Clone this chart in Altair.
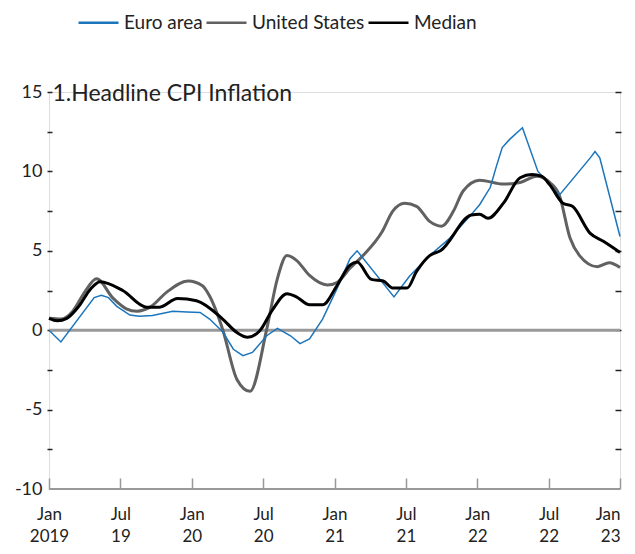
import json
import pandas as pd
import altair as alt

# months since Jan 2019
euro_m = [0, 1.0, 3.8, 4.4, 5.0, 5.7, 6.8, 7.6, 8.7, 10.4, 11.6, 12.7, 13.5, 14.6, 15.5, 16.3, 17.1,
          18.3, 19.2, 20.3, 21.1, 21.9, 23.0, 24.2, 25.3, 25.9, 29.0, 30.3, 32.0, 33.7, 35.4, 36.2,
          37.1, 37.6, 38.1, 38.7, 39.8, 41.1, 42.9, 45.5, 45.9, 46.3, 48.0]
euro_v = [0.0, -0.74, 2.05, 2.2, 2.05, 1.5, 0.95, 0.88, 0.92, 1.2, 1.15, 1.12, 0.7, -0.1, -1.2, -1.6, -1.4,
          -0.35, 0.12, -0.35, -0.85, -0.55, 0.7, 2.6, 4.5, 5.0, 2.1, 3.4, 4.7, 5.8, 7.2, 7.9,
          9.0, 10.3, 11.5, 12.0, 12.75, 10.0, 8.5, 10.85, 11.25, 10.85, 5.9]

us_m = [0, 1.0, 2.0, 3.0, 4.0, 5.4, 6.5, 7.4, 8.5, 9.9, 11.7, 12.9, 13.5, 14.6, 15.8, 16.9, 18.3, 19.2,
        20.0, 20.8, 21.9, 23.4, 24.2, 25.3, 26.4, 28.0, 28.9, 29.9, 30.9, 32.0, 33.0, 34.0, 34.8,
        36.2, 38.2, 39.6, 41.0, 42.1, 42.9, 43.8, 44.6, 46.1, 47.1, 48.0]
us_v = [0.75, 0.7, 1.2, 2.4, 3.24, 2.0, 1.35, 1.2, 1.45, 2.4, 3.1, 2.8, 2.15, 0.05, -3.1, -3.85, 0.05, 3.25,
        4.7, 4.4, 3.45, 2.85, 3.0, 3.9, 4.7, 6.2, 7.5, 8.0, 7.8, 6.85, 6.55, 7.5, 8.75,
        9.45, 9.2, 9.3, 9.7, 9.3, 8.5, 5.8, 4.7, 4.0, 4.25, 3.95]

med_m = [0, 0.7, 1.5, 2.5, 3.5, 4.3, 6.2, 8.2, 9.3, 10.8, 12.4, 14.6, 15.8, 16.7, 17.7, 18.8, 20.0,
         20.8, 21.9, 23.0, 24.2, 25.3, 25.9, 27.1, 28.1, 28.9, 30.1, 30.9, 32.0, 32.9, 35.5, 36.2,
         36.9, 38.2, 39.6, 40.6, 41.4, 42.1, 43.2, 44.0, 45.5, 46.6, 48.0]
med_v = [0.75, 0.6, 0.75, 1.5, 2.6, 3.05, 2.5, 1.45, 1.45, 2.0, 1.85, 0.7, -0.15, -0.45, -0.05, 1.3, 2.3,
         2.1, 1.6, 1.6, 2.8, 4.1, 4.3, 3.2, 3.1, 2.65, 2.65, 3.7, 4.7, 5.0, 7.25, 7.3,
         7.05, 8.0, 9.6, 9.8, 9.7, 9.15, 8.0, 7.8, 6.1, 5.6, 4.9]

series = ["Euro area", "United States", "Median"]
colors = ["#1b75bc", "#616161", "#000000"]

x_ticks = [0, 6, 12, 18, 24, 30, 36, 42, 48]
x_top = ["Jan", "Jul", "Jan", "Jul", "Jan", "Jul", "Jan", "Jul", "Jan"]
x_bottom = ["2019", "19", "20", "20", "21", "21", "22", "22", "23"]
y_ticks = [-10, -7.5, -5, -2.5, 0, 2.5, 5, 7.5, 10, 12.5, 15]
NB = "\u00a0"
y_label_values = [15, 10, 5, 0, -5, -10]
y_label_texts = ["15" + NB, "10", "5" + NB * 3, "0" + NB * 2, "-5" + NB * 2, "-10" + NB * 2]

title_text = "1.Headline CPI Inflation"
FONT = "Lato"

frames = []
for name, ms, vs in [("Euro area", euro_m, euro_v), ("United States", us_m, us_v), ("Median", med_m, med_v)]:
    frames.append(pd.DataFrame({"m": ms, "value": vs, "series": name}))
df = pd.concat(frames, ignore_index=True)

xscale = alt.Scale(domain=[0, 48], nice=False, zero=False)
yscale = alt.Scale(domain=[-10, 15], nice=False, zero=False)
color = alt.Color(
    "series:N",
    scale=alt.Scale(domain=series, range=colors),
    legend=alt.Legend(
        title=None, orient="none", direction="horizontal", legendX=28, legendY=-91,
        symbolType="stroke", symbolSize=1600, symbolStrokeWidth=2.5,
        labelFontSize=19, labelFont=FONT, labelColor="#222222", labelOffset=4,
        columnPadding=-2, labelLimit=300,
    ),
)

x_label_expr = "[{t}[round(datum.value/6)], {b}[round(datum.value/6)]]".format(
    t=json.dumps(x_top), b=json.dumps(x_bottom))

y_label_expr = ""
for v, t in zip(y_label_values, y_label_texts):
    y_label_expr += "datum.value == {} ? {} : ".format(v, json.dumps(t, ensure_ascii=False))
y_label_expr += "''"

hide_bottom_tick = {"condition": {"test": "datum.value == -10", "value": 0}, "value": 1}
last_label_align = {"condition": {"test": "datum.value == 48", "value": "right"}, "value": "center"}

x_axis = alt.Axis(
    values=x_ticks, labelExpr=x_label_expr, domain=False, grid=False,
    offset=-11, tickSize=11, tickColor="#999999", tickWidth=1.5,
    labelFontSize=17, labelFont=FONT, labelColor="#222222", labelPadding=17,
    labelLineHeight=22, labelAlign=last_label_align, title=None,
)

left_axis = alt.Axis(
    values=y_ticks, labelExpr=y_label_expr,
    domain=False, grid=False, offset=-3, tickSize=5, tickColor="#222222", tickWidth=1.5,
    tickOpacity=hide_bottom_tick,
    labelFontSize=18, labelFont=FONT, labelColor="#222222", labelPadding=5,
    title=title_text, titleAngle=0, titleAlign="left", titleBaseline="alphabetic",
    titleX=0, titleY=8, titleFontSize=23, titleFontWeight="normal", titleFont=FONT,
    titleColor="#222222",
)

right_axis = alt.Axis(
    values=y_ticks, orient="right", labels=False, domain=False, grid=False,
    offset=-5, tickSize=6, tickColor="#222222", tickWidth=1.5, title=None,
    tickOpacity=hide_bottom_tick,
)

zero_rule = alt.Chart(pd.DataFrame({"value": [0]})).mark_rule(
    color="#999999", strokeWidth=3
).encode(y=alt.Y("value:Q", scale=yscale, axis=right_axis))

bottom_rule = alt.Chart(pd.DataFrame({"value": [-10]})).mark_rule(
    color="#999999", strokeWidth=2
).encode(y=alt.Y("value:Q", scale=yscale, axis=None))


def line_layer(name, width, interp, with_axes=False):
    return alt.Chart(df[df["series"] == name]).mark_line(
        strokeWidth=width, interpolate=interp
    ).encode(
        x=alt.X("m:Q", scale=xscale, axis=x_axis if with_axes else None),
        y=alt.Y("value:Q", scale=yscale, axis=left_axis if with_axes else None),
        color=color,
    )


us_layer = line_layer("United States", 3, "monotone", with_axes=True)
euro_layer = line_layer("Euro area", 1.5, "linear")
med_layer = line_layer("Median", 3, "monotone")

chart = alt.layer(
    zero_rule, bottom_rule, us_layer, euro_layer, med_layer
).resolve_axis(
    y="independent", x="independent"
).properties(
    width=571, height=397,
    autosize=alt.AutoSizeParams(type="none"),
    padding={"left": 41, "top": 84, "right": 7, "bottom": 57},
).configure_view(
    stroke=None
).configure(
    font=FONT
)

chart.save("out.html", embed_options={"renderer": "svg", "actions": False})
